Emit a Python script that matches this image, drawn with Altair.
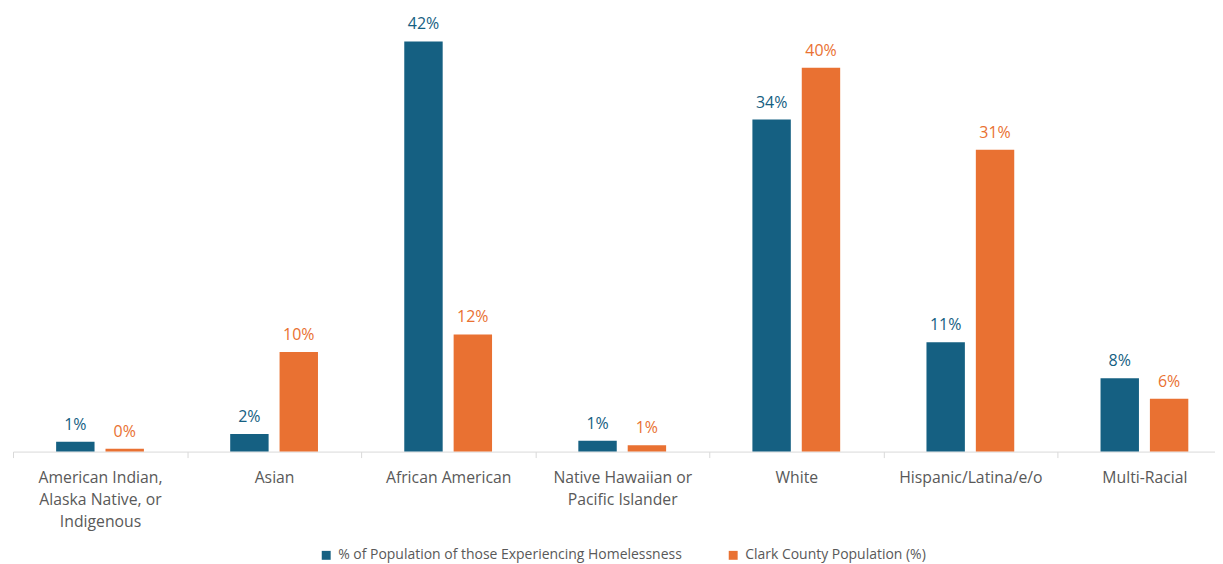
import altair as alt
import pandas as pd

categories = [
    "American Indian,|Alaska Native, or|Indigenous",
    "Asian",
    "African American",
    "Native Hawaiian or|Pacific Islander",
    "White",
    "Hispanic/Latina/e/o",
    "Multi-Racial",
]
series = ["% of Population of those Experiencing Homelessness", "Clark County Population (%)"]
homeless_values = [1.0, 1.8, 42.0, 1.1, 34.0, 11.2, 7.5]
homeless_labels = ["1%", "2%", "42%", "1%", "34%", "11%", "8%"]
county_values = [0.3, 10.2, 12.0, 0.65, 39.3, 30.9, 5.4]
county_labels = ["0%", "10%", "12%", "1%", "40%", "31%", "6%"]
colors = ["#156082", "#E97132"]

rows = []
for i, c in enumerate(categories):
    rows.append({"cat": c, "series": series[0], "value": homeless_values[i], "label": homeless_labels[i]})
    rows.append({"cat": c, "series": series[1], "value": county_values[i], "label": county_labels[i]})
df = pd.DataFrame(rows)

FONT = "Open Sans"

x = alt.X(
    "cat:N",
    sort=categories,
    title=None,
    scale=alt.Scale(paddingInner=0, paddingOuter=0, range=[0, 1221.5]),
    axis=alt.Axis(
        labelAngle=0,
        labelExpr="split(datum.label, '|')",
        labelFont=FONT,
        labelFontSize=15.8,
        labelColor="#595959",
        labelLineHeight=22,
        labelPadding=13,
        labelLimit=300,
        tickBand="extent",
        tickColor="#D9D9D9",
        tickSize=6,
        domainColor="#D9D9D9",
        domainWidth=1,
    ),
)
xo = alt.XOffset("series:N", sort=series, scale=alt.Scale(paddingInner=0.222, paddingOuter=0.874))
y = alt.Y("value:Q", scale=alt.Scale(domain=[0, 45.35], nice=False), axis=None)

bars = alt.Chart(df).mark_bar().encode(
    x=x,
    xOffset=xo,
    y=y,
    color=alt.Color(
        "series:N",
        sort=series,
        scale=alt.Scale(domain=series, range=colors),
        legend=alt.Legend(
            title=None,
            orient="none",
            direction="horizontal",
            legendX=307,
            legendY=541,
            symbolType="square",
            symbolSize=80,
            symbolStrokeWidth=0,
            labelFont=FONT,
            labelFontSize=14,
            labelColor="#595959",
            labelOffset=5,
            columnPadding=44,
            labelLimit=500,
        ),
    ),
)

text = alt.Chart(df).mark_text(baseline="alphabetic", dy=-12, font=FONT, fontSize=16).encode(
    x=alt.X("cat:N", sort=categories),
    xOffset=alt.XOffset("series:N", sort=series),
    y=alt.Y("value:Q"),
    text="label:N",
    color=alt.Color("series:N", sort=series, legend=None),
)

chart = (
    alt.layer(bars, text)
    .properties(
        width=1205,
        height=444,
        padding={"left": 5, "top": 0, "right": 0, "bottom": 112},
        autosize=alt.AutoSizeParams(type="none"),
    )
    .configure_view(stroke=None)
    .configure_scale(bandPaddingInner=0)
)

chart.save("out.html", embed_options={"renderer": "svg", "actions": False})
